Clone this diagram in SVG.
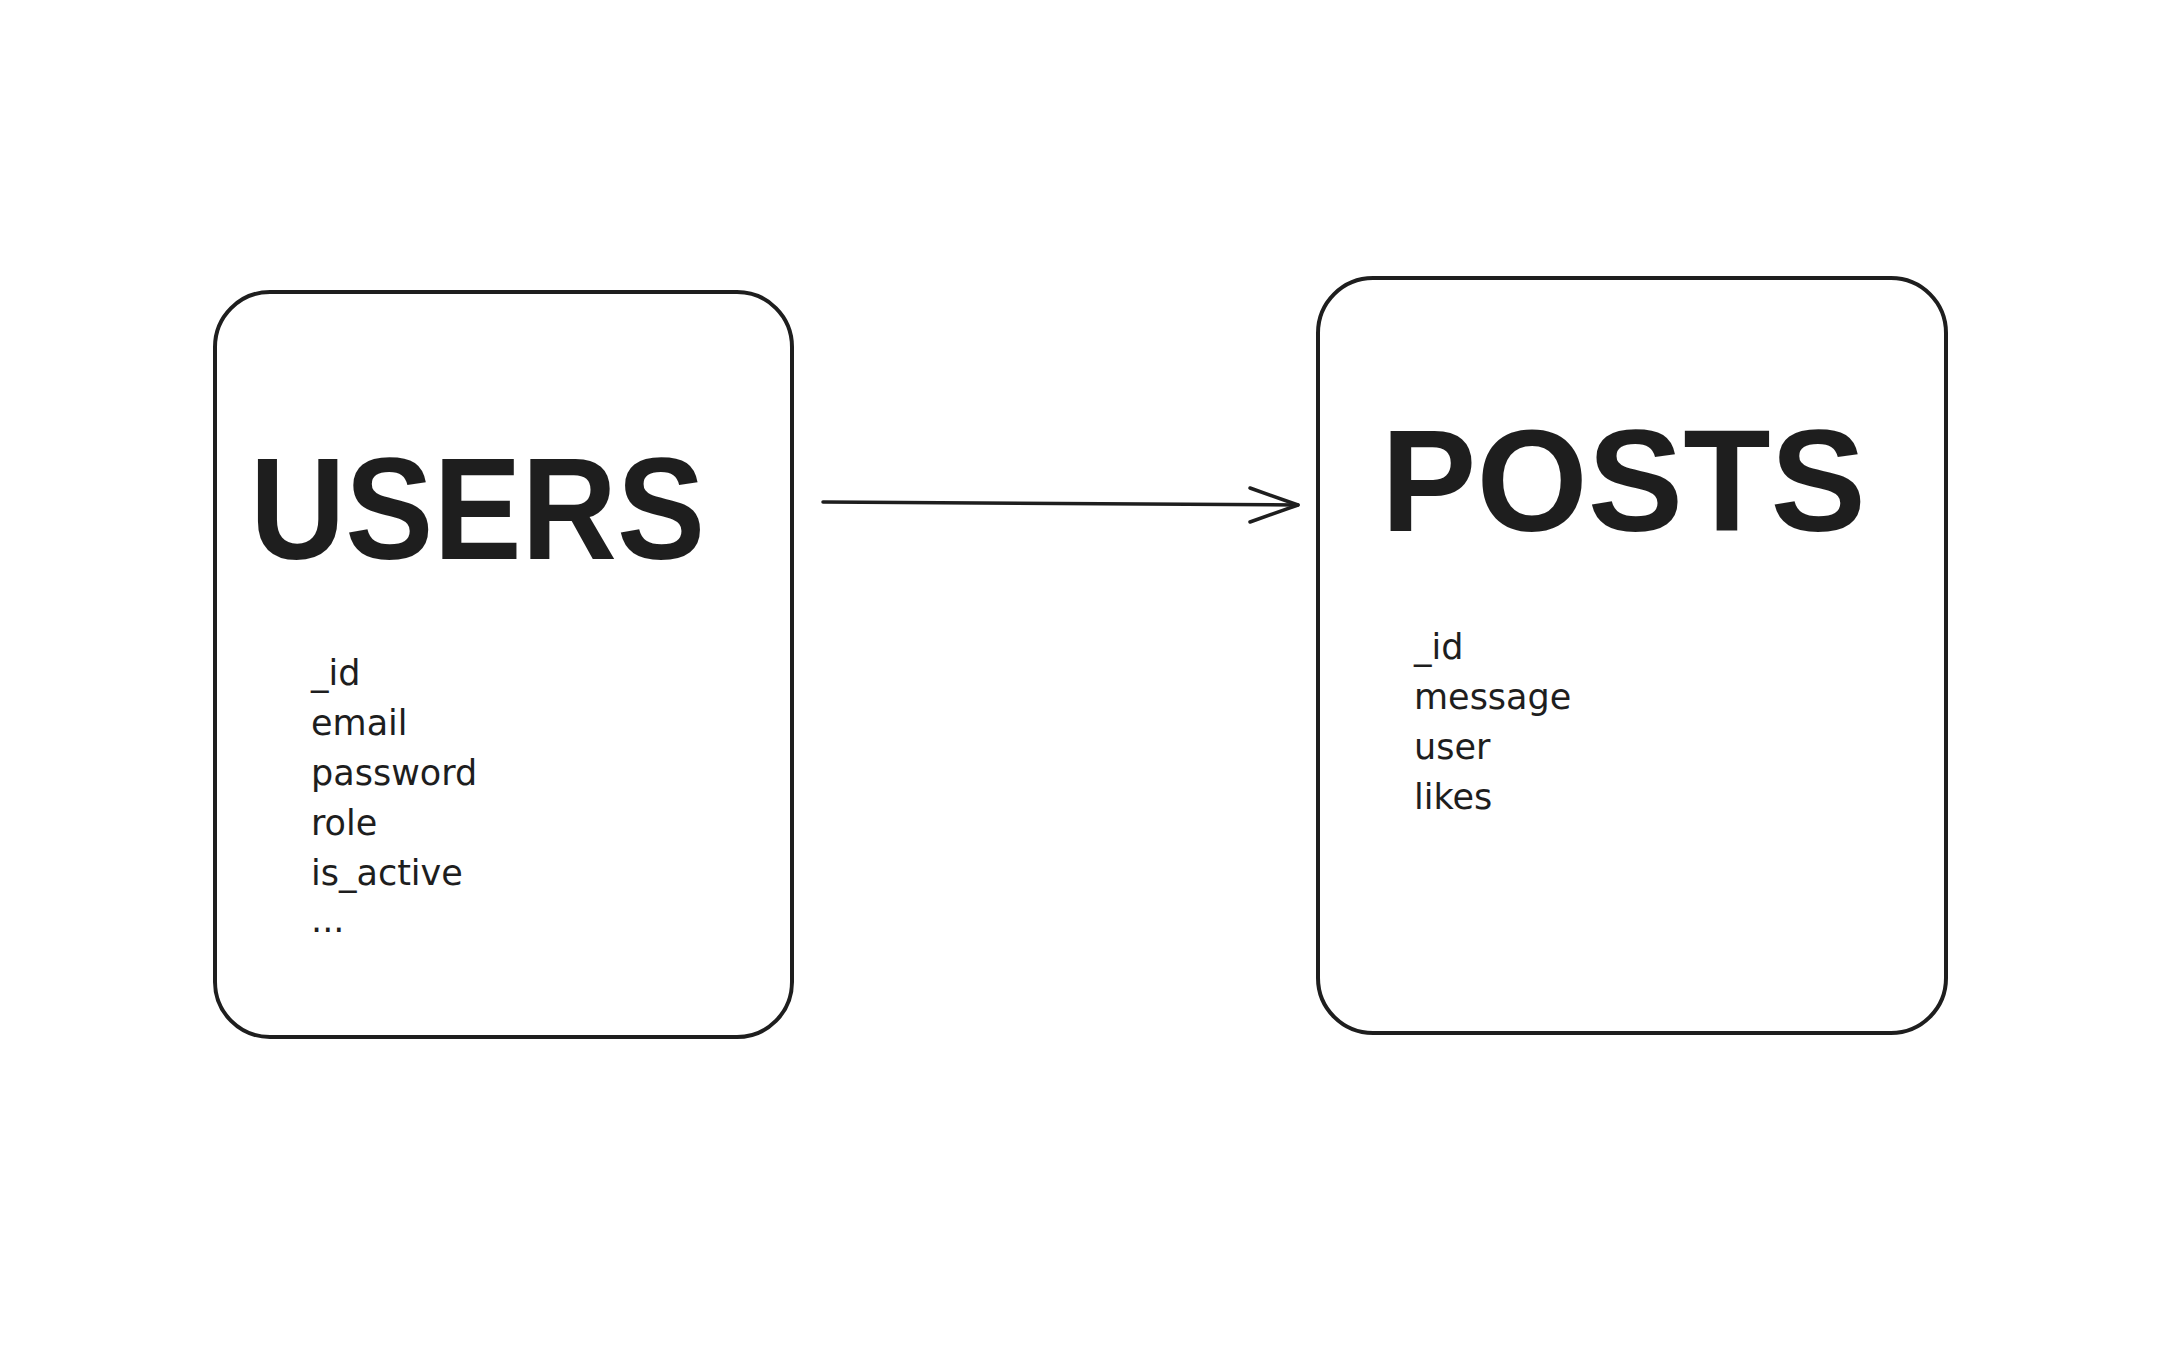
<svg xmlns="http://www.w3.org/2000/svg" width="2180" height="1362" viewBox="0 0 2180 1362">
<style>
.box{fill:#ffffff;stroke:#1e1e1e;stroke-width:4}
.title{font-family:"Liberation Sans",Arial,sans-serif;font-weight:bold;font-size:145px;fill:#1e1e1e}
.item{font-family:"DejaVu Sans",sans-serif;font-size:35px;fill:#1e1e1e}
.conn{fill:none;stroke:#1e1e1e;stroke-width:3.5;stroke-linecap:round;stroke-linejoin:round}
</style>
<rect width="2180" height="1362" fill="#ffffff"/>
<g id="users">
<rect class="box" x="215" y="292" width="577" height="745" rx="55" ry="55"/>
<text class="title" x="250" y="559" textLength="455" lengthAdjust="spacingAndGlyphs">USERS</text>
<text class="item" x="311" y="685">_id</text>
<text class="item" x="311" y="735">email</text>
<text class="item" x="311" y="785">password</text>
<text class="item" x="311" y="835">role</text>
<text class="item" x="311" y="885">is_active</text>
<text class="item" x="311" y="932">...</text>
</g>
<g id="posts">
<rect class="box" x="1318" y="278" width="628" height="755" rx="55" ry="55"/>
<text class="title" x="1381" y="531" textLength="485" lengthAdjust="spacingAndGlyphs">POSTS</text>
<text class="item" x="1414" y="659">_id</text>
<text class="item" x="1414" y="709">message</text>
<text class="item" x="1414" y="759">user</text>
<text class="item" x="1414" y="809">likes</text>
</g>
<g id="connectors">
<path class="conn" d="M823 502 L1298 505"/>
<path class="conn" d="M1250 488 L1298 505 L1250 522"/>
</g>
</svg>
